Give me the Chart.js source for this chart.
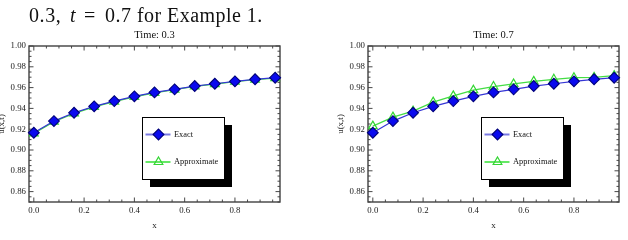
<!DOCTYPE html>
<html><head><meta charset="utf-8">
<script src="https://cdn.jsdelivr.net/npm/chart.js@4"></script>
<style>
html,body{margin:0;padding:0;background:#fff;width:628px;height:240px;overflow:hidden;position:relative}
#cap{position:absolute;left:0;top:5px;width:628px;height:24px;font-family:"Liberation Serif","DejaVu Serif",serif;font-size:20px;line-height:20px;white-space:nowrap;color:#111;z-index:2}
#cap span{position:absolute;top:0}
.wrap{position:absolute;top:0;width:314px;height:240px}
</style></head><body>
<div id="cap"><span style="left:29px;letter-spacing:0.6px">0.3,</span><span style="left:70px"><i>t</i></span><span style="left:84px">=</span><span style="left:105px;letter-spacing:0.5px">0.7</span><span style="left:137px;letter-spacing:0.45px">for Example 1.</span></div>
<div class="wrap" style="left:-25px"><canvas id="c1"></canvas></div>
<div class="wrap" style="left:314px"><canvas id="c2"></canvas></div>
<script>
// ---- data ----
const xValues = [0, 0.08, 0.16, 0.24, 0.32, 0.40, 0.48, 0.56, 0.64, 0.72, 0.80, 0.88, 0.96];
const exactT03  = [0.9166, 0.9278, 0.9358, 0.9420, 0.9470, 0.9516, 0.9554, 0.9583, 0.9615, 0.9637, 0.9660, 0.9680, 0.9695];
const approxT03 = [0.9160, 0.9272, 0.9352, 0.9415, 0.9466, 0.9511, 0.9550, 0.9580, 0.9611, 0.9634, 0.9657, 0.9677, 0.9692];
const exactT07  = [0.9166, 0.9278, 0.9358, 0.9420, 0.9470, 0.9516, 0.9554, 0.9583, 0.9615, 0.9637, 0.9660, 0.9680, 0.9695];
const approxT07 = [0.9230, 0.9316, 0.9374, 0.9460, 0.9520, 0.9575, 0.9610, 0.9635, 0.9660, 0.9680, 0.9695, 0.9698, 0.9715];
const xTickLabels = [0, 0.2, 0.4, 0.6, 0.8];
const yTickLabels = [0.86, 0.88, 0.90, 0.92, 0.94, 0.96, 0.98, 1.00];
const titles = ['Time: 0.3', 'Time: 0.7'];
const seriesNames = ['Exact', 'Approximate'];

const SERIF = '"Liberation Serif","DejaVu Serif",serif';

const framePlugin = {
  id: 'frame',
  beforeDatasetsDraw(chart) {
    const {ctx, chartArea: a, scales: {x, y}} = chart;
    ctx.save();
    ctx.strokeStyle = '#333';
    ctx.lineWidth = 0.9;
    const tick = (px, py, dx, dy) => { ctx.beginPath(); ctx.moveTo(px, py); ctx.lineTo(px + dx, py + dy); ctx.stroke(); };
    for (let k = 0; k <= 19; k++) {
      const v = k * 0.05;
      const major = xTickLabels.some(t => Math.abs(t - v) < 1e-9);
      const L = major ? 4.5 : 2.5;
      const px = x.getPixelForValue(v);
      tick(px, a.bottom, 0, -L);
      tick(px, a.top, 0, L);
    }
    for (let k = 0; k <= 30; k++) {
      const v = 0.85 + k * 0.005;
      const major = yTickLabels.some(t => Math.abs(t - v) < 1e-9);
      const L = major ? 4.5 : 2.5;
      const py = y.getPixelForValue(v);
      tick(a.left, py, L, 0);
      tick(a.right, py, -L, 0);
    }
    ctx.strokeStyle = '#404040';
    ctx.lineWidth = 1.4;
    ctx.strokeRect(a.left, a.top, a.right - a.left, a.bottom - a.top);
    ctx.restore();
  }
};

const boxLegend = {
  id: 'boxLegend',
  afterDraw(chart) {
    const {ctx, chartArea: a} = chart;
    const bx = a.left + 113, by = a.top + 71, bw = 82, bh = 62;
    ctx.save();
    ctx.fillStyle = '#000';
    ctx.fillRect(bx + 8, by + 8, bw, bh);
    ctx.fillStyle = '#fff';
    ctx.fillRect(bx, by, bw, bh);
    ctx.strokeStyle = '#000';
    ctx.lineWidth = 1;
    ctx.strokeRect(bx + 0.5, by + 0.5, bw, bh);
    const rows = [17.5, 45];
    [0, 1].forEach((di, i) => {
      const ds = chart.data.datasets[di];
      const yy = by + rows[i];
      ctx.strokeStyle = ds.legendLine;
      ctx.lineWidth = 2;
      ctx.beginPath(); ctx.moveTo(bx + 3.5, yy); ctx.lineTo(bx + 28.5, yy); ctx.stroke();
      ctx.fillStyle = ds.pointBackgroundColor;
      ctx.strokeStyle = ds.pointBorderColor;
      ctx.lineWidth = ds.pointBorderWidth;
      Chart.helpers.drawPoint(ctx, {pointStyle: ds.pointStyle, radius: ds.pointRadius, borderWidth: ds.pointBorderWidth, rotation: 0}, bx + 16.5, yy);
      ctx.fillStyle = '#111';
      ctx.font = '8.4px ' + SERIF;
      ctx.textBaseline = 'middle';
      ctx.textAlign = 'left';
      ctx.fillText(ds.label, bx + 32, yy);
    });
    ctx.restore();
  }
};

function makeChart(id, title, exact, approx) {
  const pts = arr => xValues.map((xv, i) => ({x: xv, y: arr[i]}));
  return new Chart(document.getElementById(id), {
    type: 'scatter',
    data: {
      datasets: [
        {
          label: seriesNames[0], data: pts(exact), showLine: true, order: 0,
          borderColor: '#3535d5', borderWidth: 1.2,
          pointStyle: 'rectRot', pointRadius: 5.4, pointBackgroundColor: '#0a0aee',
          pointBorderColor: '#00007a', pointBorderWidth: 1.1, legendLine: '#7a7ae2', clip: false
        },
        {
          label: seriesNames[1], data: pts(approx), showLine: true, order: 1,
          borderColor: '#44dd44', borderWidth: 1.3,
          pointStyle: 'triangle', pointRadius: 5, pointBackgroundColor: 'rgba(255,255,255,0)',
          pointBorderColor: '#33d633', pointBorderWidth: 1.2, legendLine: '#66e866', clip: false
        }
      ]
    },
    options: {
      responsive: true, maintainAspectRatio: false, animation: false,
      devicePixelRatio: 1,
      layout: {padding: {left: 0, right: 9, top: 0, bottom: 0}},
      plugins: {
        legend: {display: false},
        tooltip: {enabled: false},
        title: {
          display: true, text: title, color: '#111', fullSize: false,
          font: {family: SERIF, size: 10.5, weight: 'normal', lineHeight: 1.2},
          padding: {top: 28.7, bottom: 4.7}
        }
      },
      scales: {
        x: {
          type: 'linear', min: -0.0192, max: 0.9792,
          grid: {display: false, drawTicks: false},
          border: {display: false},
          afterBuildTicks: s => { s.ticks = xTickLabels.map(v => ({value: v})); },
          afterFit: s => { s.height = 38; },
          ticks: {padding: 3, color: '#222', font: {family: SERIF, size: 8.8}, callback: v => Number(v).toFixed(1), maxRotation: 0, autoSkip: false},
          title: {display: true, text: 'x', color: '#222', font: {family: SERIF, size: 9, lineHeight: 1.2}, padding: {top: 0, bottom: 9}}
        },
        y: {
          min: 0.85, max: 1.0,
          grid: {display: false, drawTicks: false},
          border: {display: false},
          afterBuildTicks: s => { s.ticks = yTickLabels.map(v => ({value: v})); },
          afterFit: s => { s.width = 54; },
          ticks: {padding: 3, color: '#222', font: {family: SERIF, size: 8.8}, callback: v => Number(v).toFixed(2), autoSkip: false},
          title: {display: true, text: 'u(x,t)', color: '#222', font: {family: SERIF, size: 9, lineHeight: 1.2}, padding: {top: 21.6, bottom: 0}}
        }
      }
    },
    plugins: [framePlugin, boxLegend]
  });
}

makeChart('c1', titles[0], exactT03, approxT03);
makeChart('c2', titles[1], exactT07, approxT07);
</script>
</body></html>
